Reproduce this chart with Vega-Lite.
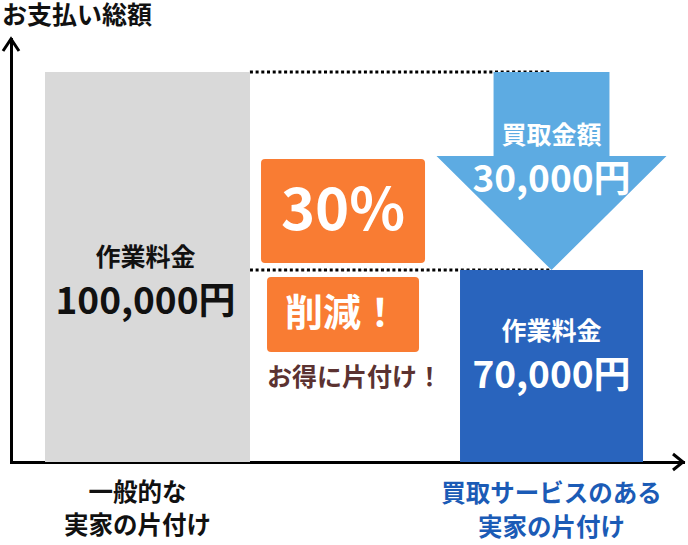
{
  "$schema": "https://vega.github.io/schema/vega-lite/v6.json",
  "width": 672,
  "height": 423,
  "autosize": "none",
  "padding": {"left": 11, "top": 39, "right": 5, "bottom": 83},
  "background": "white",
  "title": {"text": "お支払い総額", "anchor": "start", "frame": "group", "dx": -9, "offset": 4, "fontSize": 25, "font": "Noto Sans CJK JP", "fontWeight": "bold", "color": "#111"},
  "datasets": {
    "bars": [
      {"cat": "一般的な 実家の片付け", "item": "作業料金", "amount": 100000, "amount_label": "100,000円"},
      {"cat": "買取サービスのある 実家の片付け", "item": "作業料金", "amount": 70000, "amount_label": "70,000円"}
    ],
    "buyback": [
      {"cat": "買取サービスのある 実家の片付け", "item": "買取金額", "from": 100000, "to": 70000, "amount": 30000, "amount_label": "30,000円"}
    ],
    "saving": [
      {"cat": "削減", "rate": "30%", "word": "削減！", "note": "お得に片付け！"}
    ]
  },
  "layer": [
    {
      "data": {"name": "bars"},
      "mark": {"type": "rule", "stroke": "#000", "strokeWidth": 3, "strokeDash": [3, 2.7]},
      "encoding": {
        "x": {"datum": "一般的な 実家の片付け", "type": "nominal", "bandPosition": 1.028,
          "scale": {"domain": ["一般的な 実家の片付け", "削減", "買取サービスのある 実家の片付け"], "paddingInner": 0.04, "paddingOuter": 0.1834, "align": 0.534}},
        "x2": {"datum": "買取サービスのある 実家の片付け"},
        "y": {"field": "amount", "type": "quantitative", "scale": {"domain": [40909, 105000], "zero": false, "nice": false}}
      }
    },
    {
      "data": {"name": "bars"},
      "transform": [{"filter": "datum.amount == 100000"}],
      "mark": {"type": "bar", "width": 205, "color": "#d9d9d9"},
      "encoding": {
        "x": {"field": "cat", "type": "nominal"},
        "y": {"field": "amount", "type": "quantitative"},
        "y2": {"datum": 40909}
      }
    },
    {
      "data": {"name": "bars"},
      "transform": [{"filter": "datum.amount == 70000"}],
      "mark": {"type": "bar", "width": 183, "color": "#2964bd"},
      "encoding": {
        "x": {"field": "cat", "type": "nominal"},
        "y": {"field": "amount", "type": "quantitative"},
        "y2": {"datum": 40909}
      }
    },
    {
      "data": {"name": "buyback"},
      "mark": {"type": "point", "filled": true, "opacity": 1, "color": "#5dabe2", "strokeWidth": 0, "size": 52900,
        "shape": "M-0.504,0 L0.504,0 L0.504,0.73 L1,0.73 L0,1.722 L-1,0.73 L-0.504,0.73 Z"},
      "encoding": {
        "x": {"field": "cat", "type": "nominal"},
        "y": {"field": "from", "type": "quantitative"}
      }
    },
    {
      "data": {"name": "saving"},
      "mark": {"type": "point", "filled": true, "opacity": 1, "color": "#f97c33", "strokeWidth": 0, "size": 26896,
        "shape": "M-0.951,-0.634 L0.951,-0.634 Q1,-0.634 1,-0.585 L1,0.585 Q1,0.634 0.951,0.634 L-0.951,0.634 Q-1,0.634 -1,0.585 L-1,-0.585 Q-1,-0.634 -0.951,-0.634 Z"},
      "encoding": {
        "x": {"field": "cat", "type": "nominal", "bandPosition": 0.4665},
        "y": {"datum": 78939}
      }
    },
    {
      "data": {"name": "saving"},
      "mark": {"type": "point", "filled": true, "opacity": 1, "color": "#f97c33", "strokeWidth": 0, "size": 23104,
        "shape": "M-0.947,-0.493 L0.947,-0.493 Q1,-0.493 1,-0.44 L1,0.44 Q1,0.493 0.947,0.493 L-0.947,0.493 Q-1,0.493 -1,0.44 L-1,-0.44 Q-1,-0.493 -0.947,-0.493 Z"},
      "encoding": {
        "x": {"field": "cat", "type": "nominal", "bandPosition": 0.4665},
        "y": {"datum": 63258}
      }
    },
    {
      "data": {"name": "saving"},
      "mark": {"type": "text", "fontSize": 58, "color": "white", "baseline": "middle", "dx": -6.5},
      "encoding": {
        "x": {"field": "cat", "type": "nominal"},
        "y": {"datum": 78636},
        "text": {"field": "rate"}
      }
    },
    {
      "data": {"name": "saving"},
      "mark": {"type": "text", "fontSize": 38, "color": "white", "baseline": "middle", "dx": -7.5},
      "encoding": {
        "x": {"field": "cat", "type": "nominal"},
        "y": {"datum": 63182},
        "text": {"field": "word"}
      }
    },
    {
      "data": {"name": "saving"},
      "mark": {"type": "text", "fontSize": 25, "color": "#5b3231", "baseline": "middle", "dx": 5},
      "encoding": {
        "x": {"field": "cat", "type": "nominal"},
        "y": {"datum": 53636},
        "text": {"field": "note"}
      }
    },
    {
      "data": {"name": "buyback"},
      "mark": {"type": "text", "fontSize": 25, "color": "white", "baseline": "middle", "dy": 64},
      "encoding": {
        "x": {"field": "cat", "type": "nominal"},
        "y": {"field": "from", "type": "quantitative"},
        "text": {"field": "item"}
      }
    },
    {
      "data": {"name": "buyback"},
      "mark": {"type": "text", "fontSize": 37, "color": "white", "baseline": "middle", "dy": 109},
      "encoding": {
        "x": {"field": "cat", "type": "nominal"},
        "y": {"field": "from", "type": "quantitative"},
        "text": {"field": "amount_label"}
      }
    },
    {
      "data": {"name": "bars"},
      "transform": [{"filter": "datum.amount == 100000"}],
      "mark": {"type": "text", "fontSize": 25, "color": "#111", "baseline": "middle", "dy": 186, "dx": -2},
      "encoding": {
        "x": {"field": "cat", "type": "nominal"},
        "y": {"field": "amount", "type": "quantitative"},
        "text": {"field": "item"}
      }
    },
    {
      "data": {"name": "bars"},
      "transform": [{"filter": "datum.amount == 100000"}],
      "mark": {"type": "text", "fontSize": 37, "color": "#111", "baseline": "middle", "dy": 231, "dx": -2},
      "encoding": {
        "x": {"field": "cat", "type": "nominal"},
        "y": {"field": "amount", "type": "quantitative"},
        "text": {"field": "amount_label"}
      }
    },
    {
      "data": {"name": "bars"},
      "transform": [{"filter": "datum.amount == 70000"}],
      "mark": {"type": "text", "fontSize": 25, "color": "white", "baseline": "middle", "dy": 62},
      "encoding": {
        "x": {"field": "cat", "type": "nominal"},
        "y": {"field": "amount", "type": "quantitative"},
        "text": {"field": "item"}
      }
    },
    {
      "data": {"name": "bars"},
      "transform": [{"filter": "datum.amount == 70000"}],
      "mark": {"type": "text", "fontSize": 37, "color": "white", "baseline": "middle", "dy": 107},
      "encoding": {
        "x": {"field": "cat", "type": "nominal"},
        "y": {"field": "amount", "type": "quantitative"},
        "text": {"field": "amount_label"}
      }
    },
    {
      "data": {"name": "bars"},
      "transform": [{"filter": "datum.amount == 100000"}],
      "mark": {"type": "text", "fontSize": 24.5, "color": "#111", "baseline": "middle", "lineBreak": " ", "lineHeight": 33, "dy": 32, "dx": -10},
      "encoding": {
        "x": {"field": "cat", "type": "nominal"},
        "y": {"value": "height"},
        "text": {"field": "cat"}
      }
    },
    {
      "data": {"name": "bars"},
      "transform": [{"filter": "datum.amount == 70000"}],
      "mark": {"type": "text", "fontSize": 24.5, "color": "#1b5bb6", "baseline": "middle", "lineBreak": " ", "lineHeight": 34, "dy": 33},
      "encoding": {
        "x": {"field": "cat", "type": "nominal"},
        "y": {"value": "height"},
        "text": {"field": "cat"}
      }
    },
    {
      "data": {"values": [{"arrow": "y"}]},
      "mark": {"type": "point", "filled": false, "opacity": 1, "color": "#000", "strokeWidth": 3, "strokeJoin": "miter", "size": 400,
        "shape": "M-0.8,1.2 L0,0 L0.8,1.2"},
      "encoding": {
        "x": {"value": 0},
        "y": {"value": 0}
      }
    },
    {
      "data": {"values": [{"arrow": "x"}]},
      "mark": {"type": "point", "filled": false, "opacity": 1, "color": "#000", "strokeWidth": 3, "strokeJoin": "miter", "size": 400,
        "shape": "M-1,-0.8 L0,0 L-1,0.8"},
      "encoding": {
        "x": {"value": "width"},
        "y": {"value": "height"}
      }
    }
  ],
  "config": {
    "view": {"stroke": null},
    "axis": {"labels": false, "ticks": false, "grid": false, "titleOpacity": 0, "domainColor": "#000", "domainWidth": 3, "domainCap": "square"},
    "text": {"font": "Noto Sans CJK JP", "fontWeight": "bold"}
  }
}
